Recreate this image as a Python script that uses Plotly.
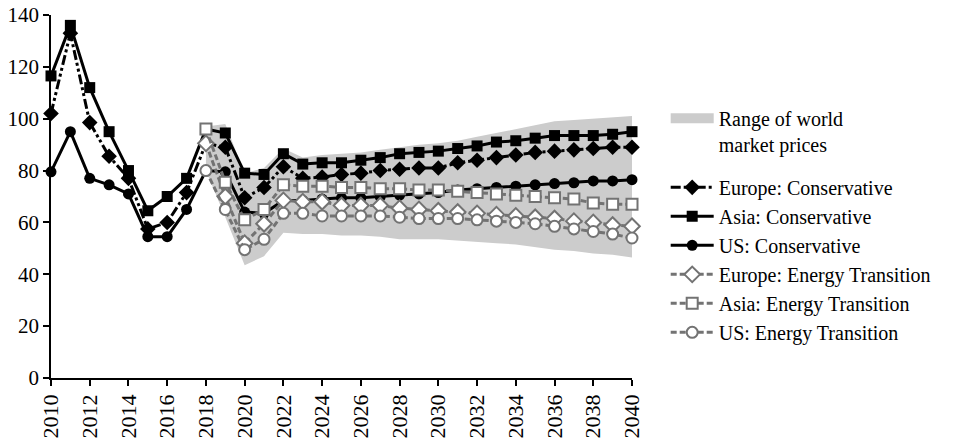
import plotly.graph_objects as go

years = list(range(2010, 2041))
years_et = list(range(2018, 2041))

europe_cons = [102, 133, 98.5, 85.5, 77, 57.5, 60, 71.5, 90.5, 89, 69.5, 73.5, 81.5, 77, 77.5, 78.5,
               79, 80, 80.5, 81, 81, 83, 84, 85, 86, 87, 87.5, 88, 88.5, 89, 89]
asia_cons = [116.5, 136, 112, 95, 80, 64.5, 70, 77, 96, 94.5, 79, 78.5, 86.5, 82.5, 83, 83,
             84, 85, 86.5, 87, 87.5, 88.5, 89.5, 91, 91.5, 92.5, 93.5, 93.5, 93.5, 94, 95]
us_cons = [79.5, 95, 77, 74.5, 71, 54.5, 54.5, 65, 80, 79.5, 64, 63.5, 68.5, 68.5, 69, 69.5,
           69.5, 70, 70.5, 71, 71.5, 72.5, 73, 73.5, 74, 74.5, 75, 75.3, 76, 76, 76.5]

europe_et = [90.5, 70, 52, 59.5, 68.5, 68, 68, 66.5, 66.5, 66.5, 65.5, 65, 64.5, 64, 63.5, 63,
             62.5, 62, 61.5, 60.5, 60, 59, 58.5]
asia_et = [96, 75.5, 61, 65, 74.5, 74, 74, 73.5, 73.5, 73, 73, 72.5, 72.5, 72, 71.5, 71,
           70.5, 70, 69.5, 69, 67.5, 67, 67]
us_et = [80, 65, 49.5, 53.5, 63.5, 63.5, 62.5, 62.5, 62.5, 62.5, 62, 61.5, 61.5, 61.5, 61,
         60.5, 60, 59.5, 58.5, 57.5, 56.5, 55.5, 54]

band_upper = [97, 98, 79, 81, 88.5, 85, 86, 86.5, 87, 88, 89, 90, 90.5, 91.5, 93, 94.5, 96,
              97.5, 99, 99.5, 100, 100.5, 101]
band_lower = [80, 62, 43.5, 47, 56, 55.5, 55.5, 55, 55, 54.5, 53.5, 53.5, 53.5, 53, 52.5, 52,
              51.5, 50.5, 49.5, 49, 48, 47.5, 46.5]

x_ticks = list(range(2010, 2041, 2))
y_ticks = list(range(0, 141, 20))

BAND = "#cccccc"
BLACK = "#000000"
GRAY = "#737373"
FONT = "'Liberation Serif', 'Times New Roman', 'DejaVu Serif', serif"

fig = go.Figure()

# band
fig.add_trace(go.Scatter(
    x=years_et + years_et[::-1], y=band_upper + band_lower[::-1],
    fill="toself", fillcolor=BAND, line=dict(width=0), mode="lines",
    hoverinfo="skip", showlegend=False))

# legend-only entry for band
fig.add_trace(go.Scatter(
    x=[None], y=[None], mode="lines", line=dict(color=BAND, width=17),
    name="Range of world<br>market prices", legendgroup="band"))

cons = [
    ("Europe: Conservative", europe_cons, "diamond", "10px,3px,3px,3px,3px,3px", 12),
    ("Asia: Conservative", asia_cons, "square", "solid", 11),
    ("US: Conservative", us_cons, "circle", "solid", 11),
]
for name, vals, sym, dash, sz in cons:
    fig.add_trace(go.Scatter(
        x=years, y=vals, mode="lines+markers", name=name, legendgroup="lines",
        line=dict(color=BLACK, width=3, dash=dash),
        marker=dict(symbol=sym, size=sz, color=BLACK),
        cliponaxis=False))

ets = [
    ("Europe: Energy Transition", europe_et, "diamond", 12),
    ("Asia: Energy Transition", asia_et, "square", 11),
    ("US: Energy Transition", us_et, "circle", 11),
]
for name, vals, sym, sz in ets:
    fig.add_trace(go.Scatter(
        x=years_et, y=vals, mode="lines+markers", name=name, legendgroup="lines",
        line=dict(color=GRAY, width=3, dash="6px,3px"),
        marker=dict(symbol=sym, size=sz, color="white", line=dict(color=GRAY, width=2)),
        cliponaxis=False))

fig.update_layout(
    width=953, height=445,
    margin=dict(l=51, r=321, t=15, b=67, autoexpand=False),
    paper_bgcolor="white", plot_bgcolor="white",
    font=dict(family=FONT, size=21, color="black"),
    showlegend=True,
    legend=dict(
        x=1.058, y=0.769, xanchor="left", yanchor="top",
        font=dict(family=FONT, size=20, color="black"),
        itemwidth=43, tracegroupgap=14, traceorder="grouped", valign="top",
        bgcolor="rgba(0,0,0,0)"),
    xaxis=dict(
        range=[2010, 2040], tickvals=x_ticks, ticktext=[str(v) for v in x_ticks],
        tickangle=-90, ticks="outside", ticklen=6, tickwidth=1.5, tickcolor="black",
        showline=True, linecolor="black", linewidth=1.5, showgrid=False, zeroline=False,
        automargin=False, ticklabeloverflow="allow", tickfont=dict(family=FONT, size=22)),
    yaxis=dict(
        range=[0, 140], tickvals=y_ticks, ticks="outside", ticklen=6, tickwidth=1.5,
        tickcolor="black", showline=True, linecolor="black", linewidth=1.5,
        showgrid=False, zeroline=False, automargin=False, ticklabeloverflow="allow",
        tickfont=dict(family=FONT, size=21)),
)

fig.write_html("out.html", config={"displayModeBar": False},
               post_script="document.body.style.margin='0';")
